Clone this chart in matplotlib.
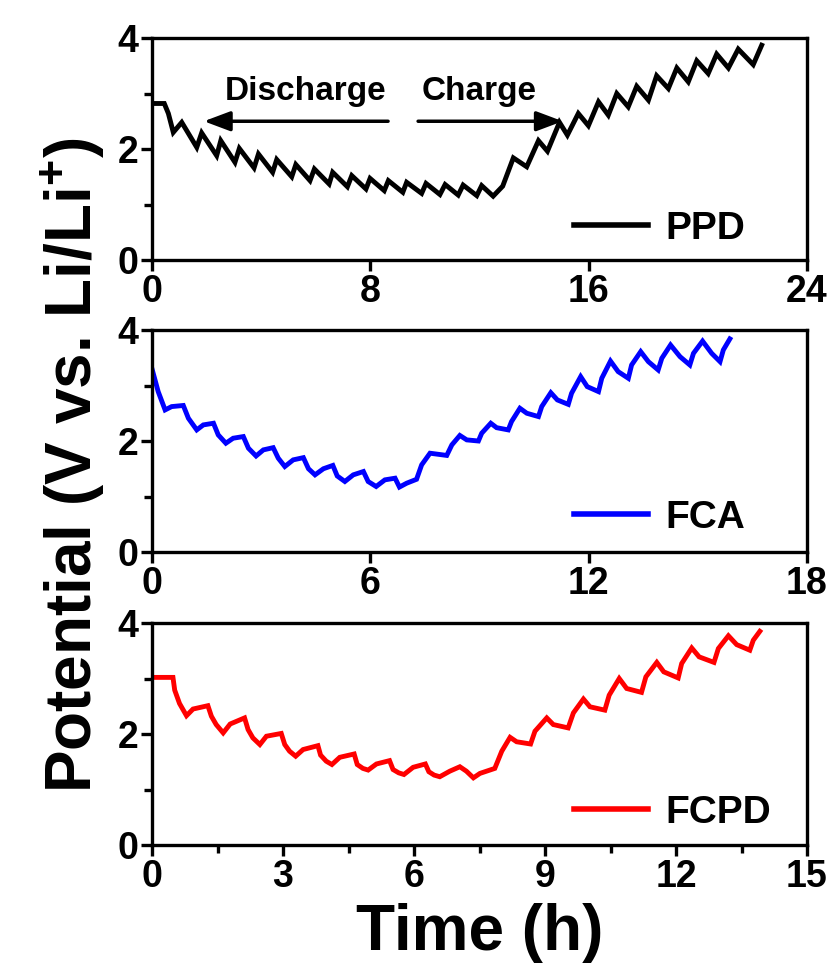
import matplotlib
matplotlib.use('Agg')
import matplotlib.pyplot as plt
from matplotlib.ticker import MultipleLocator

plt.rcParams['font.family'] = ['Liberation Sans', 'DejaVu Sans']
plt.rcParams['font.weight'] = 'bold'
plt.rcParams['mathtext.fontset'] = 'custom'
plt.rcParams['mathtext.rm'] = 'Liberation Sans:bold'
plt.rcParams['mathtext.bf'] = 'Liberation Sans:bold'

# PPD curve (time h, potential V)
ppd_t = [0.0, 0.45, 0.6, 0.78, 1.09, 1.64, 1.82, 2.37, 2.52, 3.04, 3.20, 3.74, 3.90,
         4.42, 4.57, 5.12, 5.27, 5.79, 5.95, 6.49, 6.62, 7.16, 7.32, 7.84, 7.99,
         8.51, 8.66, 9.19, 9.33, 9.88, 10.04, 10.55, 10.74, 11.22, 11.40, 11.90,
         12.08, 12.50, 12.85, 13.24, 13.73, 14.16, 14.49, 14.93, 15.22, 15.62,
         15.99, 16.36, 16.72, 17.03, 17.45, 17.76, 18.19, 18.49, 18.92, 19.23,
         19.65, 19.96, 20.38, 20.69, 21.12, 21.48, 22.03, 22.34]
ppd_v = [2.82, 2.82, 2.64, 2.30, 2.48, 2.03, 2.29, 1.88, 2.15, 1.76, 2.01, 1.66, 1.91,
         1.58, 1.81, 1.50, 1.72, 1.43, 1.64, 1.37, 1.58, 1.32, 1.52, 1.28, 1.47,
         1.25, 1.43, 1.22, 1.40, 1.20, 1.38, 1.18, 1.36, 1.17, 1.35, 1.16,
         1.34, 1.15, 1.33, 1.84, 1.68, 2.15, 1.96, 2.48, 2.25, 2.64,
         2.42, 2.85, 2.61, 3.00, 2.76, 3.13, 2.88, 3.32, 3.09, 3.46,
         3.21, 3.59, 3.36, 3.71, 3.46, 3.80, 3.52, 3.87]

# FCA curve
fca_t = [0.0, 0.17, 0.36, 0.54, 0.86, 1.0, 1.23, 1.41, 1.69, 1.82, 2.03, 2.23, 2.51,
         2.65, 2.86, 3.06, 3.33, 3.47, 3.65, 3.88, 4.16, 4.30, 4.48, 4.71, 4.97,
         5.09, 5.30, 5.53, 5.81, 5.94, 6.16, 6.40, 6.68, 6.80, 7.0, 7.27, 7.41,
         7.64, 8.10, 8.24, 8.46, 8.65, 8.97, 9.06, 9.31, 9.47, 9.79, 9.88, 10.11,
         10.30, 10.62, 10.71, 10.96, 11.14, 11.44, 11.53, 11.78, 11.96, 12.27,
         12.36, 12.60, 12.81, 13.09, 13.18, 13.43, 13.64, 13.91, 14.01, 14.25,
         14.51, 14.78, 14.88, 15.13, 15.38, 15.61, 15.70, 15.88]
fca_v = [3.30, 2.89, 2.56, 2.62, 2.64, 2.41, 2.20, 2.29, 2.32, 2.11, 1.96, 2.05, 2.08,
         1.87, 1.73, 1.84, 1.88, 1.69, 1.54, 1.66, 1.70, 1.50, 1.39, 1.50, 1.56,
         1.37, 1.27, 1.39, 1.45, 1.27, 1.18, 1.30, 1.33, 1.17, 1.24, 1.31, 1.57,
         1.78, 1.74, 1.93, 2.10, 2.02, 2.00, 2.14, 2.32, 2.24, 2.20, 2.35, 2.59,
         2.50, 2.44, 2.62, 2.87, 2.74, 2.66, 2.86, 3.16, 2.98, 2.89,
         3.13, 3.44, 3.25, 3.13, 3.37, 3.61, 3.43, 3.28, 3.49, 3.73,
         3.52, 3.37, 3.58, 3.80, 3.58, 3.43, 3.64, 3.84]

# FCPD curve
fcpd_t = [0.0, 0.48, 0.52, 0.63, 0.79, 0.94, 1.28, 1.36, 1.47, 1.63, 1.79, 2.12, 2.20,
          2.31, 2.47, 2.62, 2.96, 3.04, 3.15, 3.29, 3.46, 3.80, 3.86, 3.99, 4.12,
          4.30, 4.63, 4.70, 4.83, 4.95, 5.14, 5.44, 5.52, 5.65, 5.77, 5.98, 6.26,
          6.34, 6.46, 6.59, 6.82, 7.05, 7.20, 7.36, 7.51, 7.85, 8.01, 8.20, 8.35,
          8.67, 8.77, 9.04, 9.19, 9.53, 9.65, 9.88, 10.03, 10.37, 10.47, 10.70,
          10.87, 11.21, 11.31, 11.56, 11.72, 12.05, 12.13, 12.36, 12.53, 12.87,
          12.97, 13.20, 13.39, 13.69, 13.77, 13.92]
fcpd_v = [3.02, 3.02, 2.79, 2.55, 2.33, 2.45, 2.51, 2.32, 2.17, 2.02, 2.18, 2.29, 2.08,
          1.93, 1.81, 1.96, 2.01, 1.81, 1.69, 1.60, 1.72, 1.79, 1.62, 1.51, 1.45,
          1.58, 1.64, 1.45, 1.38, 1.35, 1.46, 1.52, 1.36, 1.30, 1.27, 1.40, 1.46,
          1.32, 1.26, 1.23, 1.33, 1.41, 1.33, 1.21, 1.29, 1.38, 1.69, 1.94, 1.86,
          1.82, 2.05, 2.29, 2.17, 2.11, 2.38, 2.63, 2.49, 2.43, 2.70, 3.00,
          2.82, 2.75, 3.03, 3.29, 3.12, 3.01, 3.27, 3.55, 3.39, 3.29,
          3.54, 3.77, 3.61, 3.51, 3.69, 3.85]

names = ['PPD', 'FCA', 'FCPD']
colors = ['black', '#0000ff', '#ff0000']
xmax = [24, 18, 15]
xstep = [8, 6, 3]
series = [(ppd_t, ppd_v), (fca_t, fca_v), (fcpd_t, fcpd_v)]
legend_y = [0.14, 0.153, 0.144]

fig = plt.figure(figsize=(8.32, 9.67), dpi=100)
left, width = 152 / 832, 655 / 832
bottoms = [707 / 967, 415 / 967, 122 / 967]
height = 222 / 967

for i in range(3):
    ax = fig.add_axes([left, bottoms[i], width, height])
    t, v = series[i]
    ax.plot(t, v, color=colors[i], lw=3.5, label=names[i],
            solid_joinstyle='miter')
    ax.set_xlim(0, xmax[i])
    ax.set_ylim(0, 4)
    ax.xaxis.set_major_locator(MultipleLocator(xstep[i]))
    ax.yaxis.set_major_locator(MultipleLocator(2))
    ax.yaxis.set_minor_locator(MultipleLocator(1))
    if i == 2:
        ax.xaxis.set_minor_locator(MultipleLocator(1.5))
    for s in ax.spines.values():
        s.set_linewidth(2.4)
    ax.tick_params(which='both', direction='out', width=2.4, labelsize=27,
                   top=False, right=False, pad=2)
    ax.tick_params(which='major', length=8)
    ax.tick_params(which='minor', length=6)
    leg = ax.legend(loc='center left', bbox_to_anchor=(0.645, legend_y[i]),
                    frameon=False, fontsize=28, handlelength=1.9,
                    handletextpad=0.45, borderpad=0, borderaxespad=0)
    for ln in leg.get_lines():
        ln.set_linewidth(4)
    if i == 0:
        ax.text(5.64, 3.03, 'Discharge', fontsize=24, ha='center', va='center')
        ax.text(11.98, 3.03, 'Charge', fontsize=24, ha='center', va='center')
        ax.annotate('', xy=(1.9, 2.5), xytext=(8.65, 2.5),
                    arrowprops=dict(arrowstyle='-|>,head_length=0.8,head_width=0.3',
                                    lw=2.5, color='black', mutation_scale=20,
                                    shrinkA=0, shrinkB=0))
        ax.annotate('', xy=(15.05, 2.5), xytext=(9.75, 2.5),
                    arrowprops=dict(arrowstyle='-|>,head_length=0.8,head_width=0.3',
                                    lw=2.5, color='black', mutation_scale=20,
                                    shrinkA=0, shrinkB=0))

fig.text(0.087, 0.519, r'Potential (V vs. Li/Li$^{\mathbf{+}}$)', rotation=90,
         fontsize=46, ha='center', va='center')
fig.text(0.576, 0.035, 'Time (h)', fontsize=46, ha='center', va='center')

fig.savefig('out.png', dpi=100)
